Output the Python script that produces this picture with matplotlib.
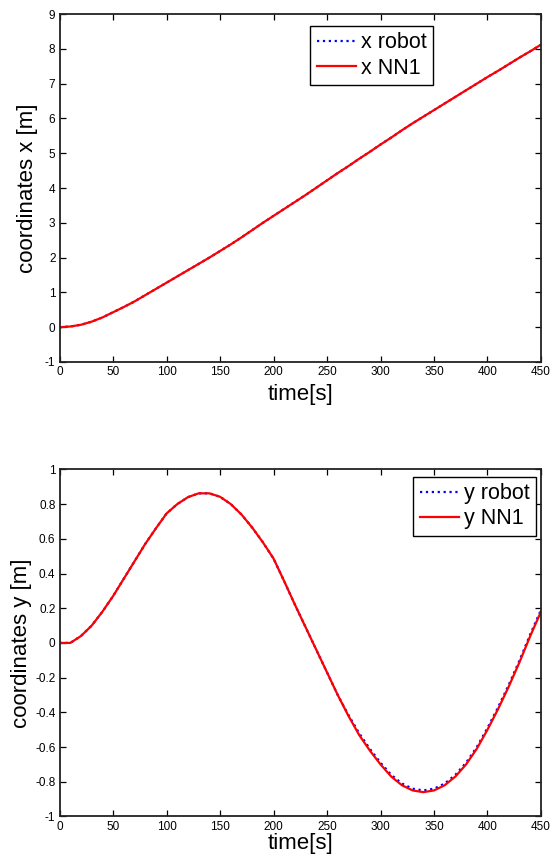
import numpy as np
import matplotlib
matplotlib.use("Agg")
import matplotlib.pyplot as plt

plt.rcParams['font.family'] = ['Liberation Sans', 'DejaVu Sans']
plt.rcParams['axes.unicode_minus'] = False

# -------------------------------------------------
# Data (time step 10 s)
# -------------------------------------------------
time_s = np.arange(0, 451, 10)

x_robot = [0.00, 0.02, 0.07, 0.16, 0.28, 0.43, 0.58, 0.74, 0.92, 1.10,
           1.28, 1.46, 1.64, 1.82, 2.00, 2.19, 2.38, 2.58, 2.79, 3.00,
           3.20, 3.40, 3.60, 3.80, 4.01, 4.22, 4.43, 4.63, 4.84, 5.04,
           5.25, 5.45, 5.66, 5.86, 6.05, 6.24, 6.43, 6.62, 6.81, 7.00,
           7.19, 7.37, 7.56, 7.75, 7.93, 8.12]
x_nn1 = [0.00, 0.02, 0.07, 0.16, 0.28, 0.43, 0.58, 0.74, 0.92, 1.10,
         1.28, 1.46, 1.64, 1.82, 2.00, 2.19, 2.38, 2.58, 2.79, 3.00,
         3.20, 3.40, 3.60, 3.80, 4.01, 4.22, 4.43, 4.63, 4.84, 5.04,
         5.25, 5.45, 5.66, 5.86, 6.05, 6.24, 6.43, 6.62, 6.81, 7.00,
         7.19, 7.37, 7.56, 7.75, 7.93, 8.12]

y_robot = [0.00, 0.00, 0.04, 0.10, 0.18, 0.27, 0.37, 0.47, 0.57, 0.66,
           0.746, 0.80, 0.84, 0.862, 0.862, 0.842, 0.80, 0.74, 0.665, 0.58,
           0.486, 0.355, 0.22, 0.09, -0.04, -0.17, -0.30, -0.415, -0.52, -0.61,
           -0.69, -0.76, -0.81, -0.84, -0.85, -0.84, -0.81, -0.76, -0.69, -0.60,
           -0.49, -0.37, -0.24, -0.10, 0.05, 0.19]
y_nn1 = [0.00, 0.00, 0.04, 0.10, 0.18, 0.27, 0.37, 0.47, 0.57, 0.66,
         0.746, 0.80, 0.84, 0.862, 0.862, 0.842, 0.80, 0.74, 0.665, 0.58,
         0.486, 0.355, 0.22, 0.09, -0.04, -0.17, -0.30, -0.42, -0.53, -0.62,
         -0.70, -0.77, -0.82, -0.85, -0.86, -0.85, -0.82, -0.77, -0.70, -0.61,
         -0.50, -0.38, -0.25, -0.11, 0.04, 0.18]

x_ticks = [0, 50, 100, 150, 200, 250, 300, 350, 400, 450]
x_yticks = [-1, 0, 1, 2, 3, 4, 5, 6, 7, 8, 9]
y_yticks = [-1, -0.8, -0.6, -0.4, -0.2, 0, 0.2, 0.4, 0.6, 0.8, 1]
y_yticklabels = ['-1', '-0.8', '-0.6', '-0.4', '-0.2', '0', '0.2', '0.4', '0.6', '0.8', '1']

# -------------------------------------------------
# Figure
# -------------------------------------------------
fig = plt.figure(figsize=(5.52, 8.57), dpi=100)
ax1 = fig.add_axes([0.108, 0.5776, 0.872, 0.406])
ax2 = fig.add_axes([0.108, 0.0473, 0.872, 0.405])


def style_axes(ax, pad):
    for sp in ax.spines.values():
        sp.set_linewidth(1.3)
        sp.set_color('#222222')
    ax.tick_params(direction='in', top=True, right=True, length=4, width=0.9,
                   labelsize=8.5, pad=3)
    ax.set_xlim(0, 450)
    ax.set_xticks(x_ticks)
    ax.set_xlabel('time[s]', fontsize=16, labelpad=pad)


def add_legend(ax, anchor):
    leg = ax.legend(loc='upper right', bbox_to_anchor=anchor, borderaxespad=0,
                    fontsize=15.5, fancybox=False, framealpha=1, edgecolor='black',
                    handlelength=1.8, handletextpad=0.25, borderpad=0.3,
                    labelspacing=0.2)
    leg.get_frame().set_linewidth(1.0)


ax1.plot(time_s, x_robot, color='blue', linestyle=':', linewidth=1.6, label='x robot')
ax1.plot(time_s, x_nn1, color='red', linestyle='-', linewidth=1.6, label='x NN1')
style_axes(ax1, 4)
ax1.set_ylim(-1, 9)
ax1.set_yticks(x_yticks)
ax1.set_ylabel('coordinates x [m]', fontsize=16, labelpad=5)
add_legend(ax1, (0.776, 0.966))

ax2.plot(time_s, y_robot, color='blue', linestyle=':', linewidth=1.6, label='y robot')
ax2.plot(time_s, y_nn1, color='red', linestyle='-', linewidth=1.6, label='y NN1')
style_axes(ax2, 0)
ax2.set_ylim(-1, 1)
ax2.set_yticks(y_yticks)
ax2.set_yticklabels(y_yticklabels)
ax2.set_ylabel('coordinates y [m]', fontsize=16, labelpad=2)
add_legend(ax2, (0.99, 0.979))

fig.savefig('out.png', dpi=100)
